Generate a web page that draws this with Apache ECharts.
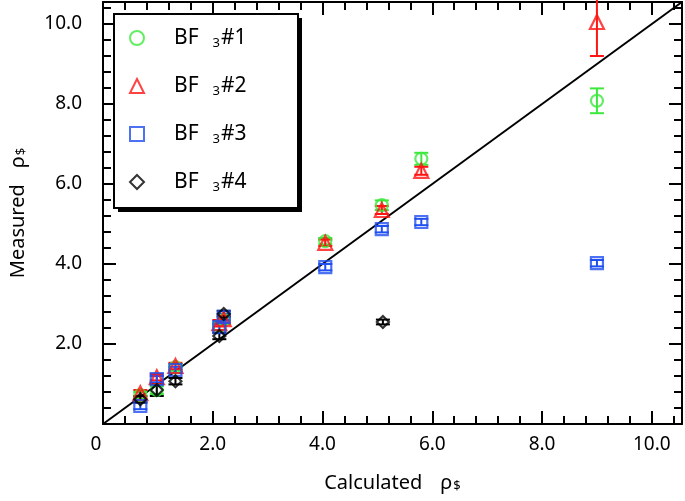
<!DOCTYPE html>
<html><head><meta charset="utf-8">
<script src="https://cdn.jsdelivr.net/npm/echarts@6/dist/echarts.min.js"></script>
<style>html,body{margin:0;padding:0;background:#fff}#c{width:685px;height:501px}</style>
</head><body><div id="c"></div>
<script>
// ---- data ----
const seriesNames = ['BF3#1', 'BF3#2', 'BF3#3', 'BF3#4'];
const calc1 = [0.68, 0.98, 1.32, 2.12, 2.2, 4.05, 5.08, 5.8, 9.0];
const meas1 = [0.72, 0.85, 1.42, 2.45, 2.6, 4.57, 5.47, 6.63, 8.08];
const err1  = [0.08, 0.1, 0.08, 0.1, 0.1, 0.08, 0.12, 0.15, 0.31];
const calc2 = [0.68, 0.98, 1.32, 2.12, 2.2, 4.05, 5.08, 5.8, 9.0];
const meas2 = [0.77, 1.17, 1.45, 2.52, 2.62, 4.53, 5.35, 6.33, 10.05];
const err2  = [0.08, 0.08, 0.08, 0.08, 0.08, 0.08, 0.1, 0.1, 0.85];
const calc3 = [0.68, 0.98, 1.32, 2.12, 2.2, 4.05, 5.08, 5.8, 9.0];
const meas3 = [0.45, 1.12, 1.35, 2.42, 2.68, 3.92, 4.87, 5.05, 4.02];
const err3  = [0.08, 0.08, 0.08, 0.08, 0.08, 0.08, 0.08, 0.08, 0.08];
const calc4 = [0.68, 0.98, 1.32, 2.12, 2.2, 5.1];
const meas4 = [0.62, 0.85, 1.07, 2.2, 2.75, 2.55];
const err4  = [0.08, 0.15, 0.08, 0.08, 0.08, 0.06];
const xTickValues = [0, 2, 4, 6, 8, 10];
const xTickLabels = ['0', '2.0', '4.0', '6.0', '8.0', '10.0'];
const yTickValues = [2, 4, 6, 8, 10];
const yTickLabels = ['2.0', '4.0', '6.0', '8.0', '10.0'];
const axisMin = 0, axisMax = 10.55;
const lineRef = [[0, 0], [axisMax, axisMax]];

// ---- styling ----
const FONT = 'Noto Sans';
const colors = ['#3ce83c', '#ff1414', '#1f4ff0', '#000000'];
const symbols = ['circle', 'triangle', 'rect', 'diamond'];
const sizes = [12, 14, 12, 12];
const sets = [[calc1, meas1, err1], [calc2, meas2, err2], [calc3, meas3, err3], [calc4, meas4, err4]];

function findLabel(vals, labels, v) {
  for (let i = 0; i < vals.length; i++) if (Math.abs(vals[i] - v) < 1e-6) return labels[i];
  return '';
}

const series = [{
  type: 'line', data: lineRef, symbol: 'none', silent: true, z: 1,
  lineStyle: { color: '#000', width: 2 }, xAxisIndex: 0, yAxisIndex: 0
}];
sets.forEach(([xs, ys, es], i) => {
  const data = xs.map((x, j) => [x, ys[j], es[j]]);
  const col = colors[i];
  series.push({
    type: 'custom', name: seriesNames[i] + ' err', data, z: 2, silent: true,
    encode: { x: 0, y: 1 },
    renderItem: (params, api) => {
      const x = api.value(0), y = api.value(1), e = api.value(2);
      const p1 = api.coord([x, y + e]), p2 = api.coord([x, y - e]);
      const hw = 7;
      const st = { stroke: col, lineWidth: 2 };
      return { type: 'group', children: [
        { type: 'line', shape: { x1: p1[0], y1: p1[1], x2: p2[0], y2: p2[1] }, style: st },
        { type: 'line', shape: { x1: p1[0] - hw, y1: p1[1], x2: p1[0] + hw, y2: p1[1] }, style: st },
        { type: 'line', shape: { x1: p2[0] - hw, y1: p2[1], x2: p2[0] + hw, y2: p2[1] }, style: st }
      ] };
    }
  });
  series.push({
    type: 'scatter', name: seriesNames[i], data, z: 3,
    symbol: symbols[i], symbolSize: sizes[i],
    itemStyle: { color: 'rgba(255,255,255,0)', borderColor: col, borderWidth: 2.2 }
  });
});

const tickLine = { color: '#000', width: 2 };
const base = { type: 'value', min: axisMin, max: axisMax, splitLine: { show: false } };
function majorAxis(pos, labelCfg, extra) {
  return Object.assign({}, base, {
    position: pos, interval: 2,
    axisLine: { show: true, onZero: false, lineStyle: { color: '#000', width: 2 } },
    axisTick: { show: true, inside: true, length: 13, lineStyle: tickLine },
    axisLabel: labelCfg || { show: false }
  }, extra || {});
}
function minorAxis(pos) {
  return Object.assign({}, base, {
    position: pos, interval: 0.4,
    axisLine: { show: false, onZero: false },
    axisTick: { show: true, inside: true, length: 8, lineStyle: tickLine },
    axisLabel: { show: false }
  });
}

const chart = echarts.init(document.getElementById('c'), null, { renderer: 'canvas' });
chart.setOption({
  animation: false,
  backgroundColor: '#fff',
  grid: { left: 92, right: 2, top: 2, bottom: 77, containLabel: false },
  graphic: [
    { type: 'rect', left: 118, top: 18, shape: { width: 184, height: 194 }, style: { fill: '#000' }, z: 10 },
    { type: 'rect', left: 113, top: 13, shape: { width: 184, height: 194 }, style: { fill: '#fff', stroke: '#000', lineWidth: 2 }, z: 11 }
  ],
  legend: {
    data: seriesNames.map((n, i) => ({ name: n, icon: symbols[i] })),
    orient: 'vertical', left: 113, top: 13, z: 20,
    padding: [13, 10, 10, 16],
    itemWidth: 14, itemHeight: 14, itemGap: 24,
    formatter: n => '{a|BF}{s|3}{c|' + n.slice(3) + '}',
    textStyle: {
      fontFamily: FONT, fontSize: 21, color: '#000', lineHeight: 24,
      rich: {
        a: { fontFamily: FONT, fontSize: 21, color: '#000', padding: [0, 14, 0, 25] },
        s: { fontFamily: FONT, fontSize: 13, color: '#000', verticalAlign: 'bottom', padding: [6, 1, 0, 0] },
        c: { fontFamily: FONT, fontSize: 21, color: '#000' }
      }
    }
  },
  xAxis: [
    majorAxis('bottom', {
      show: true, margin: 11, fontSize: 19, fontFamily: FONT, color: '#000',
      formatter: v => { const l = findLabel(xTickValues, xTickLabels, v); return l === '0' ? '{z|0}' : l; },
      rich: { z: { fontSize: 19, fontFamily: FONT, color: '#000', padding: [0, 14, 0, 0] } }
    }, {
      name: '{t|Calculated}{r|ρ}{s|$}', nameLocation: 'middle', nameGap: 49,
      nameTextStyle: {
        rich: {
          t: { fontFamily: FONT, fontSize: 20, color: '#000', padding: [0, 18, 0, 0] },
          r: { fontFamily: FONT, fontSize: 20, color: '#000' },
          s: { fontFamily: FONT, fontSize: 13, color: '#000', verticalAlign: 'bottom', padding: [6, 0, 0, 1] }
        }
      }
    }),
    minorAxis('bottom'),
    majorAxis('top'),
    minorAxis('top')
  ],
  yAxis: [
    majorAxis('left', {
      show: true, margin: 21, fontSize: 19, fontFamily: FONT, color: '#000',
      formatter: v => findLabel(yTickValues, yTickLabels, v)
    }, {
      name: '{t|Measured}{r|ρ}{s|$}', nameLocation: 'middle', nameGap: 75, nameRotate: 90,
      nameTextStyle: {
        rich: {
          t: { fontFamily: FONT, fontSize: 20, color: '#000', padding: [0, 16, 0, 0] },
          r: { fontFamily: FONT, fontSize: 20, color: '#000' },
          s: { fontFamily: FONT, fontSize: 13, color: '#000', verticalAlign: 'bottom', padding: [6, 0, 0, 1] }
        }
      }
    }),
    minorAxis('left'),
    majorAxis('right'),
    minorAxis('right')
  ],
  series
});
</script>
</body></html>
